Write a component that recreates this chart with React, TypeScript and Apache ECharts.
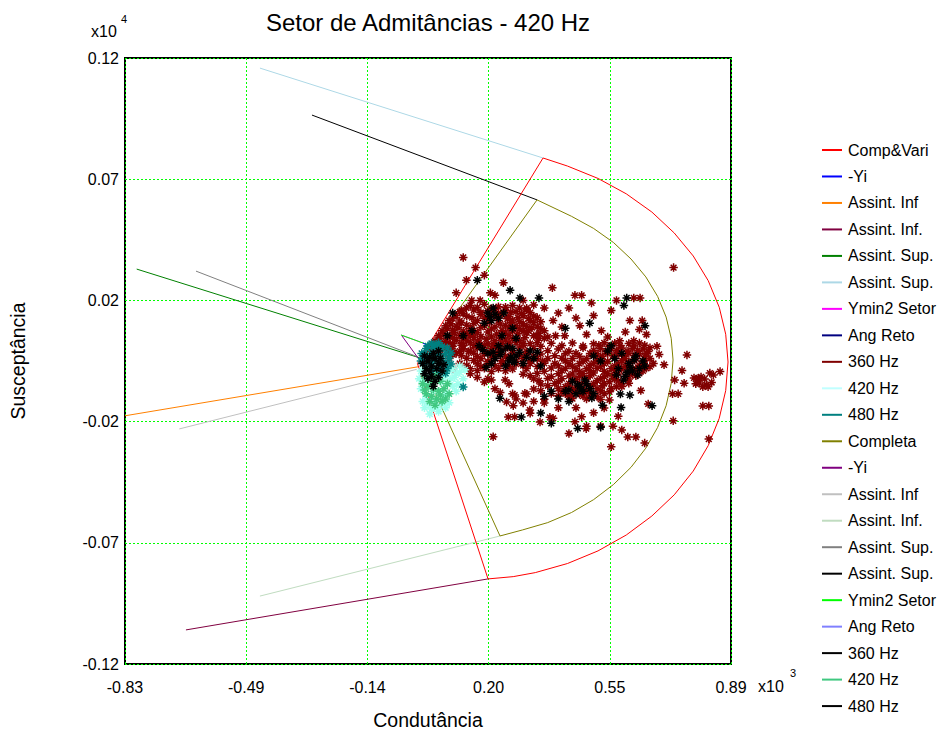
import React, { useEffect, useRef } from "react";
import * as echarts from "echarts";

const TITLE = "Setor de Admitâncias - 420 Hz";
const X_NAME = "Condutância";
const Y_NAME = "Susceptância";
const X_TICKS = [-0.83, -0.486, -0.142, 0.202, 0.546, 0.89];
const Y_TICKS = [-0.12, -0.072, -0.024, 0.024, 0.072, 0.12];

// Boundary lines (x: ×10^3, y: ×10^4)
const compVari = [
  [0.0, -0.001], [0.3565, 0.0804], [0.426, 0.0772], [0.5126, 0.0723], [0.5929, 0.0662], [0.6653, 0.059],
  [0.7289, 0.0507], [0.7828, 0.0416], [0.8254, 0.0318], [0.8566, 0.0213], [0.875, 0.0106], [0.8816, -0.0004],
  [0.875, -0.0117], [0.8566, -0.0227], [0.8254, -0.0335], [0.7828, -0.0436], [0.7289, -0.053], [0.6653, -0.0614],
  [0.5929, -0.0689], [0.5126, -0.0752], [0.426, -0.0802], [0.3346, -0.0838], [0.2719, -0.0854], [0.2004, -0.0863],
  [0.0, -0.001],
];
const completa = [
  [0.01, -0.0004], [0.3395, 0.0638], [0.4374, 0.0573], [0.5001, 0.0525], [0.5566, 0.0469], [0.6062, 0.0404],
  [0.6483, 0.0333], [0.6817, 0.0256], [0.7059, 0.0174], [0.7203, 0.009], [0.7255, 0.0004], [0.7203, -0.0088],
  [0.7059, -0.0177], [0.6817, -0.0263], [0.6483, -0.0345], [0.6062, -0.0421], [0.5566, -0.0489], [0.5001, -0.0549],
  [0.4374, -0.06], [0.3698, -0.064], [0.2983, -0.0669], [0.2344, -0.0693], [0.01, -0.0004],
];
const assintInf1 = [[-0.83, -0.0217], [0.0016, -0.0023]];
const assintInfDot1 = [[-0.657, -0.1065], [0.2004, -0.0863]];
const assintSup1a = [[-0.7968, 0.0364], [0.0073, 0.0012]];
const assintSup1b = [[-0.447, 0.116], [0.3565, 0.0804]];
const assintInf2 = [[-0.6759, -0.0269], [-0.0021, -0.0033]];
const assintInfDot2 = [[-0.447, -0.0931], [0.2344, -0.0693]];
const assintSup2a = [[-0.6285, 0.0356], [0.0016, 0.0016]];
const assintSup2b = [[-0.2993, 0.0974], [0.3395, 0.0638]];
const yi1 = [[0.016, 0.0071], [0.03, 0.0059]];
const yi2 = [[-0.0437, 0.0099], [0.0017, 0.0012]];
const ymin2Setor1 = [[-0.0466, 0.0103], [0.0243, 0.0067]];
const ymin2Setor2 = [[-0.0466, 0.0103], [0.0243, 0.0067]];
const angReto1 = [[0.02, 0.0063], [0.027, 0.0048]];
const angReto2 = [[0.022, 0.0065], [0.03, 0.005]];

// Measured points, 360 Hz (first set)
const hz360a = [
  [0.13, 0.041], [0.165, 0.037], [0.19, 0.034], [0.139, 0.032], [0.244, 0.031], [0.383, 0.029], [0.447, 0.026],
  [0.466, 0.026], [0.494, 0.023], [0.565, 0.024], [0.614, 0.025], [0.632, 0.025], [0.727, 0.037], [0.207, 0.027],
  [0.178, 0.024], [0.154, 0.024], [0.125, 0.02], [0.139, 0.021], [0.22, 0.026], [0.3, 0.024], [0.11, 0.027],
  [0.15, 0.022], [0.19, 0.0225], [0.23, 0.0215], [0.27, 0.022], [0.29, 0.021], [0.33, 0.0222],
  [0.12, 0.0195], [0.16, 0.0202], [0.2, 0.0198], [0.22, 0.0205], [0.25, 0.02], [0.28, 0.0195], [0.31, 0.0203],
  [0.11, 0.018], [0.14, 0.0177], [0.18, 0.0185], [0.21, 0.018], [0.24, 0.0183], [0.26, 0.0175], [0.3, 0.018], [0.33, 0.0178],
  [0.09, 0.016], [0.12, 0.0158], [0.17, 0.016], [0.2, 0.0165], [0.23, 0.016], [0.27, 0.0162], [0.29, 0.0155], [0.32, 0.016], [0.35, 0.0155],
  [0.08, 0.014], [0.11, 0.0138], [0.14, 0.0142], [0.19, 0.014], [0.22, 0.0135], [0.25, 0.0141], [0.28, 0.014], [0.31, 0.0137], [0.34, 0.0135],
  [0.07, 0.012], [0.1, 0.0122], [0.13, 0.0118], [0.16, 0.012], [0.2, 0.0115], [0.24, 0.0121], [0.27, 0.012], [0.3, 0.0118], [0.36, 0.012],
  [0.06, 0.01], [0.09, 0.0098], [0.12, 0.0102], [0.15, 0.01], [0.18, 0.0097], [0.21, 0.0095], [0.26, 0.0101], [0.33, 0.01], [0.37, 0.0095],
  [0.05, 0.008], [0.08, 0.0078], [0.11, 0.0082], [0.14, 0.008], [0.17, 0.0079], [0.22, 0.008], [0.25, 0.0083], [0.29, 0.008],
  [0.04, 0.006], [0.07, 0.0062], [0.1, 0.0058], [0.13, 0.006], [0.16, 0.0061], [0.19, 0.006], [0.23, 0.0058],
  [0.05, 0.004], [0.09, 0.0041], [0.12, 0.0039], [0.15, 0.004], [0.035, 0.0045], [0.065, 0.0025], [0.1, 0.0025],
  [0.17, 0.0212], [0.21, 0.0208], [0.25, 0.0213], [0.31, 0.0209],
  [0.13, 0.0188], [0.18, 0.0192], [0.23, 0.0189], [0.265, 0.0193], [0.295, 0.0187], [0.32, 0.0191],
  [0.1, 0.0168], [0.155, 0.0172], [0.19, 0.0169], [0.225, 0.0173], [0.255, 0.0167], [0.285, 0.0171], [0.315, 0.0168], [0.34, 0.0172],
  [0.095, 0.0148], [0.125, 0.0152], [0.16, 0.0149], [0.205, 0.0153], [0.235, 0.0147], [0.265, 0.0151], [0.3, 0.0148], [0.33, 0.0152],
  [0.085, 0.0128], [0.115, 0.0132], [0.15, 0.0129], [0.18, 0.0133], [0.21, 0.0127], [0.26, 0.0131], [0.29, 0.0128], [0.325, 0.0132], [0.35, 0.0129],
  [0.075, 0.0108], [0.105, 0.0112], [0.14, 0.0109], [0.17, 0.0113], [0.225, 0.0107], [0.25, 0.0111], [0.285, 0.0108], [0.31, 0.0112], [0.345, 0.0109],
  [0.065, 0.0088], [0.1, 0.0092], [0.13, 0.0089], [0.16, 0.0093], [0.195, 0.0087], [0.235, 0.0091], [0.27, 0.0088], [0.305, 0.0092], [0.345, 0.0089],
  [0.055, 0.0068], [0.085, 0.0072], [0.125, 0.0069], [0.175, 0.0073], [0.215, 0.0067], [0.26, 0.0071], [0.3, 0.0068], [0.34, 0.0072],
  [0.385, 0.016], [0.45, 0.017], [0.461, 0.014], [0.522, 0.012], [0.337, 0.01], [0.36, 0.009], [0.392, 0.01], [0.418, 0.01],
  [0.315, 0.012], [0.603, 0.016], [0.638, 0.016], [0.574, 0.008], [0.614, 0.008], [0.4, 0.019], [0.5, 0.018], [0.55, 0.02],
  [0.36, 0.021], [0.43, 0.021], [0.41, 0.0135], [0.48, 0.0105], [0.54, 0.0095], [0.59, 0.0115], [0.65, 0.0105], [0.63, 0.0125],
];
// 360 Hz central band
const hz360b = [
  [0.1, 0.007], [0.15, 0.0072], [0.2, 0.0068], [0.24, 0.007], [0.28, 0.0073], [0.32, 0.0069], [0.38, 0.007], [0.44, 0.0071],
  [0.5, 0.0068], [0.53, 0.0072], [0.56, 0.007], [0.6, 0.0069], [0.63, 0.0071],
  [0.08, 0.005], [0.13, 0.0048], [0.17, 0.0052], [0.21, 0.005], [0.25, 0.0049], [0.29, 0.0051], [0.33, 0.005], [0.4, 0.0048],
  [0.47, 0.0052], [0.52, 0.005], [0.55, 0.0049], [0.58, 0.0051], [0.61, 0.005], [0.64, 0.0048], [0.66, 0.0052],
  [0.11, 0.003], [0.16, 0.0031], [0.19, 0.0029], [0.23, 0.003], [0.27, 0.0032], [0.31, 0.003], [0.35, 0.0028], [0.42, 0.003],
  [0.45, 0.0031], [0.49, 0.003], [0.51, 0.0029], [0.54, 0.003], [0.57, 0.0032], [0.6, 0.003], [0.63, 0.0029], [0.65, 0.003],
  [0.09, 0.001], [0.14, 0.0011], [0.18, 0.0009], [0.22, 0.001], [0.26, 0.0012], [0.3, 0.001], [0.34, 0.0009], [0.37, 0.001],
  [0.41, 0.0011], [0.44, 0.001], [0.48, 0.0009], [0.52, 0.001], [0.56, 0.0012], [0.59, 0.001], [0.62, 0.0009], [0.66, 0.001],
  [0.12, -0.001], [0.17, -0.0011], [0.2, -0.0009], [0.24, -0.001], [0.28, -0.0012], [0.32, -0.001], [0.36, -0.0009], [0.39, -0.001],
  [0.43, -0.0011], [0.46, -0.001], [0.5, -0.0009], [0.53, -0.001], [0.57, -0.0012], [0.6, -0.001], [0.64, -0.0009], [0.67, -0.001],
  [0.1, -0.003], [0.15, -0.0031], [0.19, -0.0029], [0.23, -0.003], [0.27, -0.0032], [0.31, -0.003], [0.38, -0.0028], [0.42, -0.003],
  [0.45, -0.0031], [0.48, -0.003], [0.51, -0.0029], [0.55, -0.003], [0.58, -0.0032], [0.62, -0.003], [0.65, -0.0029],
  [0.15, -0.005], [0.3, -0.0052], [0.34, -0.0049], [0.4, -0.005], [0.44, -0.0051], [0.47, -0.005], [0.5, -0.0048], [0.54, -0.005],
  [0.57, -0.0051], [0.61, -0.005], [0.63, -0.0049],
  [0.2, -0.007], [0.33, -0.0071], [0.37, -0.0069], [0.41, -0.007], [0.45, -0.0072], [0.48, -0.007], [0.52, -0.0069], [0.56, -0.007], [0.6, -0.0071],
  [0.26, -0.009], [0.35, -0.0091], [0.39, -0.0089], [0.43, -0.009], [0.46, -0.0092], [0.5, -0.009], [0.53, -0.0089], [0.58, -0.009],
  [0.22, -0.011], [0.33, -0.0111], [0.4, -0.0109], [0.44, -0.011], [0.47, -0.0112], [0.51, -0.011], [0.55, -0.0109],
  [0.27, -0.013], [0.31, -0.0131], [0.38, -0.0129], [0.42, -0.013], [0.46, -0.0132], [0.49, -0.013], [0.53, -0.0129],
  [0.28, -0.015], [0.36, -0.0151], [0.44, -0.0149], [0.48, -0.015], [0.52, -0.0152],
  [0.125, 0.0062], [0.18, 0.0058], [0.22, 0.0061], [0.26, 0.0059], [0.3, 0.0062], [0.35, 0.0058], [0.41, 0.0061], [0.47, 0.0059],
  [0.515, 0.0062], [0.545, 0.0058], [0.575, 0.0061], [0.615, 0.0059], [0.645, 0.0062],
  [0.1, 0.0042], [0.145, 0.0038], [0.19, 0.0041], [0.23, 0.0039], [0.27, 0.0042], [0.31, 0.0038], [0.37, 0.0041], [0.43, 0.0039],
  [0.5, 0.0042], [0.535, 0.0038], [0.565, 0.0041], [0.595, 0.0039], [0.625, 0.0042], [0.655, 0.0038],
  [0.125, 0.0022], [0.17, 0.0018], [0.21, 0.0021], [0.25, 0.0019], [0.29, 0.0022], [0.33, 0.0018], [0.39, 0.0021], [0.46, 0.0019],
  [0.5, 0.0022], [0.525, 0.0018], [0.555, 0.0021], [0.585, 0.0019], [0.615, 0.0022], [0.645, 0.0018],
  [0.16, 0.0002], [0.2, -0.0002], [0.24, 0.0001], [0.28, -0.0001], [0.32, 0.0002], [0.355, -0.0002], [0.42, 0.0001], [0.47, -0.0001],
  [0.51, 0.0002], [0.54, -0.0002], [0.58, 0.0001], [0.61, -0.0001], [0.645, 0.0002],
  [0.14, -0.0018], [0.18, -0.0022], [0.22, -0.0019], [0.26, -0.0021], [0.3, -0.0018], [0.34, -0.0022], [0.4, -0.0019], [0.44, -0.0021],
  [0.49, -0.0018], [0.52, -0.0022], [0.56, -0.0019], [0.59, -0.0021], [0.63, -0.0018], [0.66, -0.0022],
  [0.17, -0.0038], [0.21, -0.0042], [0.25, -0.0039], [0.36, -0.0041], [0.41, -0.0038], [0.46, -0.0042], [0.49, -0.0039],
  [0.53, -0.0041], [0.56, -0.0038], [0.6, -0.0042], [0.64, -0.0039],
  [0.32, -0.0058], [0.38, -0.0062], [0.43, -0.0059], [0.46, -0.0061], [0.49, -0.0058], [0.53, -0.0062], [0.555, -0.0059],
  [0.59, -0.0061], [0.62, -0.0058],
  [0.345, -0.0078], [0.4, -0.0082], [0.44, -0.0079], [0.475, -0.0081], [0.51, -0.0078], [0.545, -0.0082], [0.57, -0.0079],
  [0.37, -0.0098], [0.42, -0.0102], [0.455, -0.0099], [0.49, -0.0101], [0.525, -0.0098], [0.565, -0.0102],
  [0.35, -0.0118], [0.41, -0.0122], [0.45, -0.0119], [0.48, -0.0121], [0.52, -0.0118], [0.545, -0.0122],
  [0.4, -0.0138], [0.43, -0.0142], [0.47, -0.0139], [0.51, -0.0141],
];
// 360 Hz scattered outer points
const hz360c = [
  [0.686, 0.0026], [0.765, 0.0024], [0.751, -0.0038], [0.757, -0.0088], [0.797, -0.0068], [0.83, -0.0048], [0.859, -0.0042],
  [0.825, -0.0102], [0.73, -0.0075], [0.74, -0.013], [0.81, -0.0178], [0.827, -0.0178], [0.724, -0.013], [0.634, -0.0117],
  [0.655, -0.017], [0.726, -0.0237], [0.645, -0.0325], [0.827, -0.0309], [0.597, -0.0301], [0.62, -0.0301], [0.55, -0.034],
  [0.58, -0.0273], [0.555, -0.0258], [0.52, -0.0258], [0.48, -0.0258], [0.57, -0.0219], [0.53, -0.0186], [0.545, -0.0154],
  [0.6, -0.0088], [0.58, -0.0101], [0.68, 0.0058], [0.7, -0.0015],
  [0.785, -0.0067], [0.795, -0.0075], [0.805, -0.0063], [0.815, -0.0071], [0.8, -0.0087], [0.82, -0.0095], [0.835, -0.0085],
  [0.79, -0.009], [0.81, -0.0102], [0.84, -0.0055],
  [0.19, -0.0083], [0.21, -0.0075], [0.253, -0.0162], [0.272, -0.0177], [0.258, -0.0222], [0.276, -0.0221], [0.276, -0.0135],
  [0.305, -0.0128], [0.319, -0.0194], [0.348, -0.0242], [0.385, -0.0227], [0.215, -0.03], [0.249, -0.0075], [0.436, -0.0136],
  [0.447, -0.0241], [0.466, -0.0221], [0.479, -0.0268], [0.43, -0.0287], [0.376, -0.0223], [0.32, -0.0207], [0.3, -0.0166],
  [0.36, -0.0166], [0.4, -0.0185], [0.5, -0.0205], [0.45, -0.0185], [0.33, -0.016], [0.235, -0.0125], [0.17, -0.0065],
];
const hz420a = [
  [0.01, -0.004], [0.02, -0.008], [0.01, -0.011], [0.025, -0.014], [0.03, -0.017], [0.04, -0.019], [0.05, -0.016], [0.06, -0.012],
  [0.07, -0.008], [0.08, -0.006], [0.09, -0.004], [0.1, -0.003], [0.11, -0.005], [0.12, -0.002], [0.115, -0.009], [0.13, -0.007],
  [0.1, -0.01], [0.085, -0.013], [0.07, -0.017], [0.06, -0.02], [0.045, -0.012], [0.005, -0.007], [0.015, -0.016], [0.095, -0.007],
  [0.075, -0.014], [0.035, -0.021], [0.08, -0.0185], [0.065, -0.005], [0.105, -0.0065], [0.12, -0.0045], [0.09, -0.0165],
  [0.055, -0.0185], [0.02, -0.0185], [0.135, -0.0035], [0.11, -0.012],
];
const hz480a = [
  [0.04, 0.007], [0.06, 0.0072],
  [0.025, 0.005], [0.045, 0.0052], [0.065, 0.0049], [0.085, 0.0051],
  [0.02, 0.003], [0.04, 0.0031], [0.06, 0.0029], [0.08, 0.003], [0.095, 0.0032],
  [0.015, 0.001], [0.03, 0.0011], [0.05, 0.0009], [0.07, 0.001], [0.09, 0.0012],
  [0.02, -0.001], [0.04, -0.0011], [0.06, -0.0009], [0.08, -0.001], [0.095, -0.0012],
  [0.025, -0.003], [0.045, -0.0031], [0.065, -0.0029], [0.085, -0.003],
  [0.04, -0.005], [0.06, -0.0052], [0.08, -0.0049],
  [0.03, 0.006], [0.05, 0.0062], [0.07, 0.0058],
  [0.01, 0.0], [0.012, 0.003], [0.13, -0.0103],
];
// second set: 360 Hz (black)
const hz360b2 = [
  [0.17, 0.032], [0.263, 0.028], [0.291, 0.025], [0.345, 0.025], [0.586, 0.022], [0.594, 0.025], [0.1, 0.019],
  [0.2, 0.019], [0.215, 0.021], [0.23, 0.017], [0.21, 0.016], [0.245, 0.019], [0.19, 0.015], [0.155, 0.012], [0.13, 0.01],
  [0.27, 0.013], [0.28, 0.009], [0.24, 0.01], [0.085, 0.01], [0.06, 0.004], [0.175, 0.006], [0.22, 0.0185], [0.205, 0.0175],
  [0.2, 0.003], [0.22, 0.001], [0.24, 0.004], [0.26, 0.0], [0.28, 0.002], [0.3, -0.001], [0.25, -0.002], [0.33, 0.001],
  [0.21, -0.001], [0.27, 0.005], [0.23, 0.006], [0.32, 0.004], [0.35, -0.002], [0.235, 0.0025], [0.265, 0.0015], [0.29, 0.0035],
  [0.185, 0.0045], [0.215, 0.0035], [0.255, 0.0055], [0.31, 0.0015], [0.34, 0.0035], [0.275, -0.0005], [0.195, -0.0025],
  [0.42, 0.013], [0.489, 0.015], [0.646, 0.014], [0.603, -0.0135], [0.576, -0.0131], [0.578, -0.0184], [0.666, -0.0177],
  [0.525, -0.0175], [0.495, -0.0147], [0.38, -0.0247], [0.35, -0.0206], [0.455, -0.0267], [0.295, -0.0222], [0.234, -0.0148],
];
const hz420b = [
  [0.02, -0.006], [0.035, -0.007], [0.05, -0.006], [0.065, -0.008], [0.015, -0.009], [0.03, -0.01], [0.045, -0.011],
  [0.06, -0.012], [0.075, -0.011], [0.025, -0.013], [0.04, -0.014], [0.055, -0.015], [0.07, -0.016], [0.085, -0.009],
  [0.09, -0.013], [0.035, -0.016], [0.05, -0.0175], [0.08, -0.015], [0.02, -0.0115], [0.065, -0.0135], [0.045, -0.0085],
];
// second set: 480 Hz (black)
const hz480b = [
  [0.5, 0.002], [0.52, 0.0], [0.54, 0.004], [0.56, 0.001], [0.58, 0.003], [0.6, -0.001], [0.62, 0.002], [0.64, 0.0],
  [0.61, -0.004], [0.57, -0.003], [0.59, -0.006], [0.63, -0.003], [0.55, 0.006], [0.44, -0.008], [0.46, -0.01], [0.47, -0.012],
  [0.45, -0.013], [0.48, -0.009], [0.49, -0.011], [0.42, -0.012], [0.5, -0.013], [0.4, -0.015], [0.43, -0.016], [0.36, -0.014],
  [0.38, -0.012], [0.43, -0.0115], [0.52, -0.0262], [0.605, -0.0025], [0.615, 0.0005], [0.595, -0.0045], [0.465, -0.0115],
  [0.585, -0.0075], [0.625, -0.0055], [0.645, -0.002], [0.565, -0.0055], [0.455, -0.0095], [0.475, -0.0075],
  [0.02, 0.002], [0.03, 0.0], [0.04, -0.002], [0.05, 0.001], [0.035, -0.004], [0.025, -0.003], [0.045, 0.003], [0.055, -0.003],
  [0.015, -0.001], [0.06, -0.001], [0.04, -0.006], [0.03, -0.007], [0.05, -0.008], [0.02, -0.005], [0.065, 0.001], [0.045, -0.01],
  [0.07, -0.004], [0.06, -0.0065], [0.075, -0.0015], [0.035, 0.0015],
];

const LEGEND_NAMES = [
  "Comp&Vari", "-Yi", "Assint. Inf", "Assint. Inf.", "Assint. Sup.", "Assint. Sup.", "Ymin2 Setor", "Ang Reto",
  "360 Hz", "420 Hz", "480 Hz", "Completa", "-Yi", "Assint. Inf", "Assint. Inf.", "Assint. Sup.", "Assint. Sup.",
  "Ymin2 Setor", "Ang Reto", "360 Hz", "420 Hz", "480 Hz",
];
const LEGEND_COLORS = [
  "#ff0000", "#0000ff", "#ff8000", "#800040", "#008000", "#add8e6", "#ff00ff", "#000080",
  "#800000", "#c0ffff", "#008080", "#808000", "#800080", "#c0c0c0", "#c0dcc0", "#808080", "#000000",
  "#00ff00", "#8080ff", "#000000", "#40c880", "#000000",
];

const FONT = "Liberation Sans, Arial, sans-serif";
const STAR = "path://M5,0L5,10M0,5L10,5M1.6,1.6L8.4,8.4M1.6,8.4L8.4,1.6";

export default function App() {
  const ref = useRef<HTMLDivElement>(null);
  useEffect(() => {
    if (!ref.current) return;
    const chart = echarts.init(ref.current, undefined, { renderer: "svg" });
    const line = (name: string, data: number[][], color: string) => ({
      type: "line", name, data, showSymbol: false, symbol: "none", silent: true,
      lineStyle: { color, width: 1 }, z: 2,
    });
    const scatter = (name: string, data: number[][], color: string, z: number) => ({
      type: "scatter", name, data, symbol: STAR, symbolSize: 8.5, silent: true, z,
      itemStyle: { color: "rgba(0,0,0,0)", borderColor: color, borderWidth: 1.5, opacity: 1 },
    });
    const legendGraphics: any[] = [];
    LEGEND_NAMES.forEach((n, i) => {
      const y = 150 + i * 26.48;
      legendGraphics.push({ type: "line", shape: { x1: 822, y1: y, x2: 842, y2: y }, style: { stroke: LEGEND_COLORS[i], lineWidth: 2 } });
      legendGraphics.push({ type: "text", x: 848, y, style: { text: n, fill: "#000", font: `16px ${FONT}`, verticalAlign: "middle", textAlign: "left" } });
    });
    const splitX = { show: true, lineStyle: { color: "#00ff00", width: 1, type: [2, 2], opacity: 1 } };
    const splitY = { show: true, lineStyle: { color: "#00ff00", width: 1, type: [2, 2], opacity: 1 } };
    chart.setOption({
      animation: false,
      backgroundColor: "#fff",
      title: { text: TITLE, left: 423, top: 5, textAlign: "center", textStyle: { fontFamily: FONT, fontSize: 24, fontWeight: "normal", color: "#000" } },
      grid: {
        left: 125, top: 58, width: 606, height: 606, show: true, borderColor: "#000", borderWidth: 2,
        backgroundColor: "transparent", containLabel: false, outerBoundsMode: "none",
      },
      xAxis: {
        type: "value", min: -0.83, max: 0.89, name: X_NAME, nameLocation: "middle", nameGap: 46,
        nameTextStyle: { fontFamily: FONT, fontSize: 19.5, color: "#000" },
        axisLine: { show: false }, axisTick: { show: false, customValues: X_TICKS },
        axisLabel: { customValues: X_TICKS, formatter: (v: number) => v.toFixed(2), fontFamily: FONT, fontSize: 16, color: "#000", margin: 15 },
        splitLine: splitX,
      },
      yAxis: {
        type: "value", min: -0.12, max: 0.12, name: Y_NAME, nameLocation: "middle", nameGap: 97,
        nameTextStyle: { fontFamily: FONT, fontSize: 19.5, color: "#000" },
        axisLine: { show: false }, axisTick: { show: false, customValues: Y_TICKS },
        axisLabel: { customValues: Y_TICKS, formatter: (v: number) => v.toFixed(2), fontFamily: FONT, fontSize: 16, color: "#000", margin: 6 },
        splitLine: splitY,
      },
      graphic: [
        { type: "text", x: 91, y: 31, style: { text: "x10", fill: "#000", font: `16px ${FONT}`, verticalAlign: "middle" } },
        { type: "text", x: 121, y: 19, style: { text: "4", fill: "#000", font: `11px ${FONT}`, verticalAlign: "middle" } },
        { type: "text", x: 758, y: 686, style: { text: "x10", fill: "#000", font: `16px ${FONT}`, verticalAlign: "middle" } },
        { type: "text", x: 790, y: 673, style: { text: "3", fill: "#000", font: `11px ${FONT}`, verticalAlign: "middle" } },
        ...legendGraphics,
      ],
      series: [
        line("Assint. Inf", assintInf1, "#ff8000"),
        line("Assint. Inf.", assintInfDot1, "#800040"),
        line("Assint. Sup.", assintSup1a, "#008000"),
        line("Assint. Sup.", assintSup1b, "#add8e6"),
        line("Assint. Inf", assintInf2, "#c0c0c0"),
        line("Assint. Inf.", assintInfDot2, "#c0dcc0"),
        line("Assint. Sup.", assintSup2a, "#808080"),
        line("Assint. Sup.", assintSup2b, "#000000"),
        line("Comp&Vari", compVari, "#ff0000"),
        line("Completa", completa, "#808000"),
        line("Ymin2 Setor", ymin2Setor1, "#ff00ff"),
        line("Ymin2 Setor", ymin2Setor2, "#00ff00"),
        line("-Yi", yi1, "#0000ff"),
        line("-Yi", yi2, "#800080"),
        line("Ang Reto", angReto1, "#000080"),
        line("Ang Reto", angReto2, "#8080ff"),
        scatter("360 Hz", hz360a, "#800000", 3),
        scatter("360 Hz", hz360b, "#800000", 3),
        scatter("360 Hz", hz360c, "#800000", 3),
        scatter("420 Hz", hz420a, "#a0ffee", 4),
        scatter("480 Hz", hz480a, "#008080", 5),
        scatter("360 Hz", hz360b2, "#000000", 6),
        scatter("420 Hz", hz420b, "#40c880", 7),
        scatter("480 Hz", hz480b, "#000000", 8),
      ],
    });
    return () => chart.dispose();
  }, []);
  return <div ref={ref} style={{ position: "absolute", left: 0, top: 0, width: 941, height: 730 }} />;
}
